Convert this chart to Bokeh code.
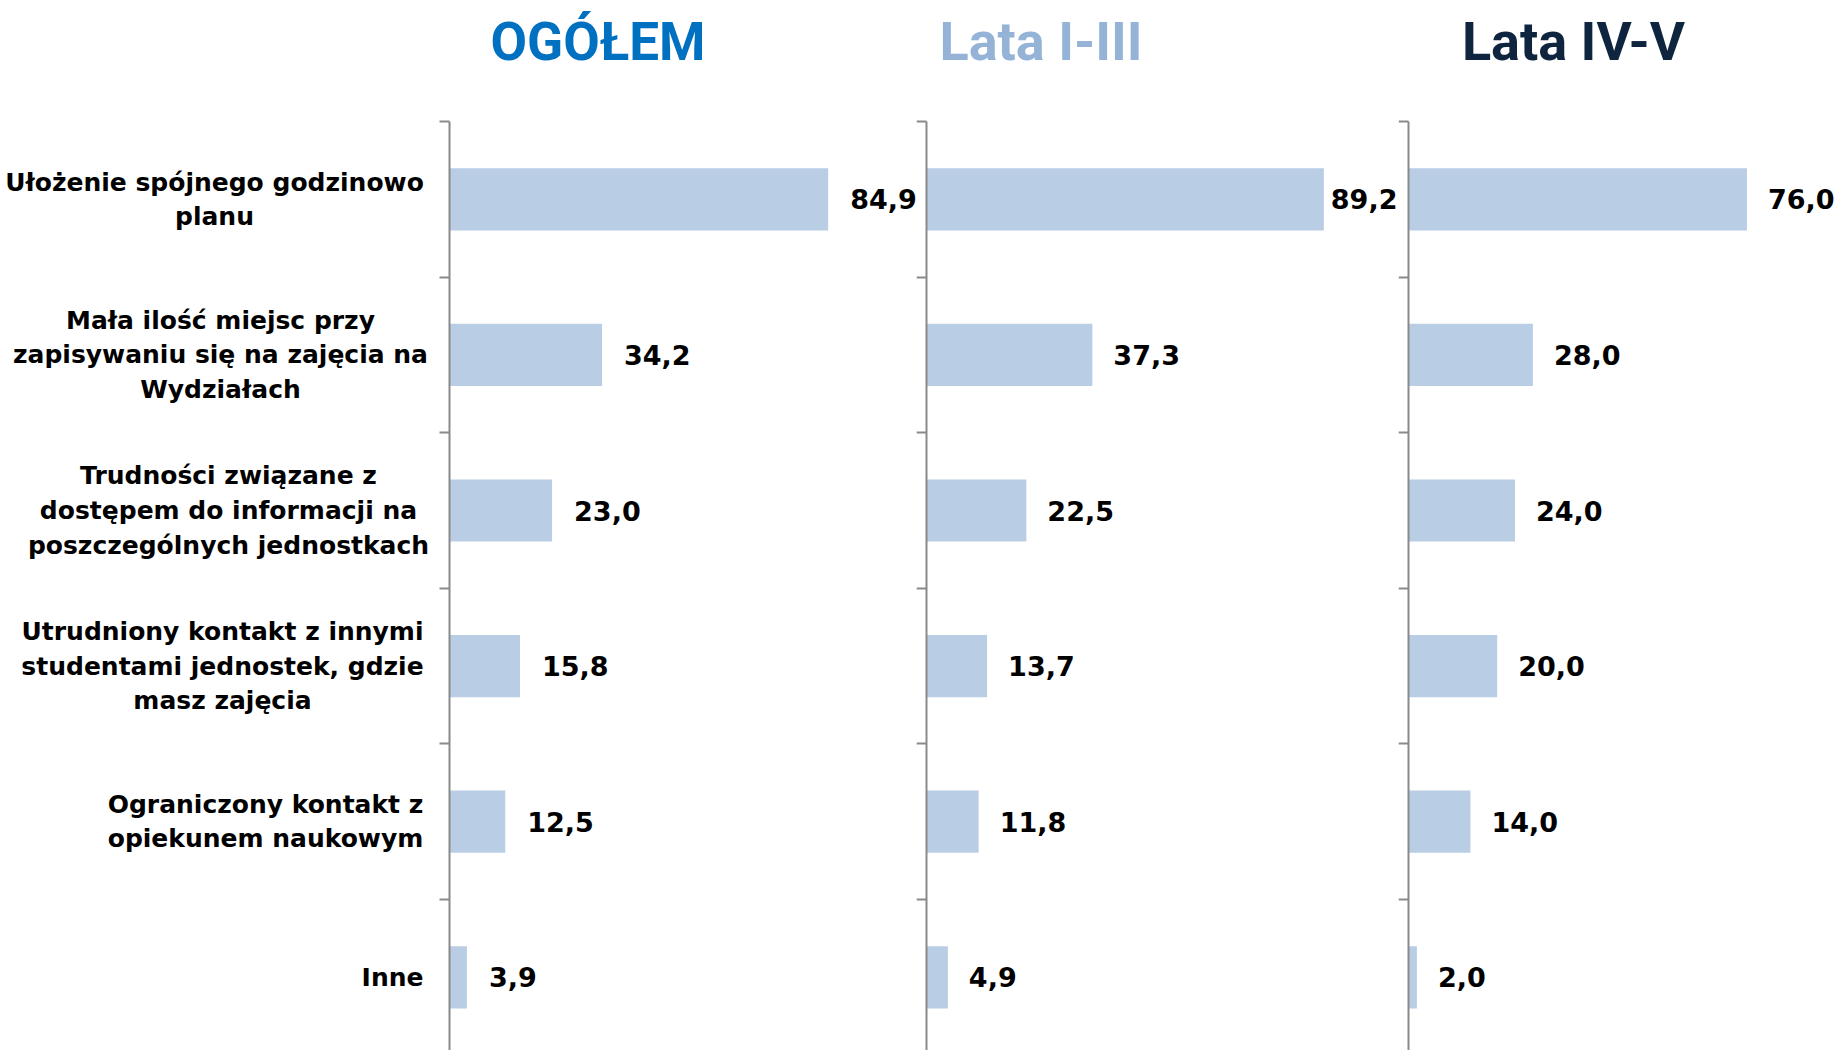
from bokeh.plotting import figure
from bokeh.models import Range1d, LinearAxis, FixedTicker, ColumnDataSource
from bokeh.layouts import row
from bokeh.core.properties import value
from bokeh.embed import file_html
from bokeh.resources import INLINE

# ---------------- data ----------------
categories = [
    "Ułożenie spójnego godzinowo\nplanu",
    "Mała ilość miejsc przy\nzapisywaniu się na zajęcia na\nWydziałach",
    "Trudności związane z\ndostępem do informacji na\nposzczególnych jednostkach",
    "Utrudniony kontakt z innymi\nstudentami jednostek, gdzie\nmasz zajęcia",
    "Ograniczony kontakt z\nopiekunem naukowym",
    "Inne",
]
ogolem = [84.9, 34.2, 23.0, 15.8, 12.5, 3.9]
lata_1_3 = [89.2, 37.3, 22.5, 13.7, 11.8, 4.9]
lata_4_5 = [76.0, 28.0, 24.0, 20.0, 14.0, 2.0]
titles = ["OGÓŁEM", "Lata I-III", "Lata IV-V"]

# ---------------- layout / style ----------------
PX_PER_UNIT = 4.46          # pixels per percentage point
ROW_PX = 155.6              # pixels per category band
AXIS_TOP = 121.0            # page y of the top of the axes
PAGE_TOP, PAGE_BOTTOM = 0.0, 1050.0
# (frame left, frame right, axis x) in page pixels
PANELS = [(0.0, 916.0, 449.0), (916.0, 1398.0, 925.5), (1398.0, 1837.0, 1407.5)]
TITLE_CX = [597.5, 1040.5, 1573.0]
TITLE_BASE = 41.0
TITLE_COLORS = ["#0070C0", "#95B3D7", "#0F243E"]
TITLE_SIZES = ["53px", "54px", "54px"]
LABEL_CX = [214, 220, 228, 222, 265, 392]
BAR_COLOR = "#B9CDE5"
AXIS_COLOR = "#8A8A8A"
BAR_H = 0.40
VAL_OFFSET = [[22] * 6, [7] + [21] * 5, [21] * 6]

series = [ogolem, lata_1_3, lata_4_5]
n = len(categories)
ycent = [i + 0.5 for i in range(n)]

def px_to_x(px, axis_px):
    return (px - axis_px) / PX_PER_UNIT

def py_to_y(py):
    return (py - AXIS_TOP) / ROW_PX

figs = []
for k, (vals, (fl, fr, ax)) in enumerate(zip(series, PANELS)):
    p = figure(
        width=int(fr - fl), height=int(PAGE_BOTTOM - PAGE_TOP),
        x_range=Range1d(px_to_x(fl, ax), px_to_x(fr, ax)),
        y_range=Range1d(py_to_y(PAGE_BOTTOM), py_to_y(PAGE_TOP)),
        x_axis_location=None, y_axis_location=None,
        toolbar_location=None, output_backend="svg",
        min_border=0, outline_line_color=None,
        background_fill_color="white", border_fill_color="white",
    )
    p.grid.visible = False

    src = ColumnDataSource(dict(
        y=ycent, v=vals,
        lab=[f"{v:.1f}".replace(".", ",") for v in vals],
        off=VAL_OFFSET[k],
    ))
    p.hbar(y="y", left=0, right="v", height=BAR_H, source=src,
           fill_color=BAR_COLOR, line_color=None)
    p.text(x="v", y="y", text="lab", source=src, x_offset="off", y_offset=0,
           text_font=value("DejaVu Sans"), text_font_style="bold",
           text_font_size="27px", text_color="black",
           text_align="left", text_baseline="middle")

    yaxis = LinearAxis(
        fixed_location=0, bounds=(0, 10),
        ticker=FixedTicker(ticks=[], minor_ticks=list(range(n + 1))),
        major_tick_in=0, major_tick_out=0,
        minor_tick_in=0, minor_tick_out=10,
        axis_line_color=AXIS_COLOR, axis_line_width=2,
        minor_tick_line_color=AXIS_COLOR, minor_tick_line_width=2,
    )
    p.add_layout(yaxis, "left")

    p.text(x=[px_to_x(TITLE_CX[k], ax)], y=[py_to_y(TITLE_BASE)], text=[titles[k]],
           text_font=value("Roboto"), text_font_style="bold",
           text_font_size=TITLE_SIZES[k], text_color=TITLE_COLORS[k],
           text_align="center", text_baseline="middle")

    if k == 0:
        p.text(x=[px_to_x(c, ax) for c in LABEL_CX], y=ycent, text=categories,
               text_font=value("DejaVu Sans"), text_font_style="bold",
               text_font_size="25px", text_color="black",
               text_align="center", text_baseline="middle",
               text_line_height=1.19)
    figs.append(p)

layout = row(*figs, spacing=0)
open("out.html", "w").write(file_html(layout, INLINE))
